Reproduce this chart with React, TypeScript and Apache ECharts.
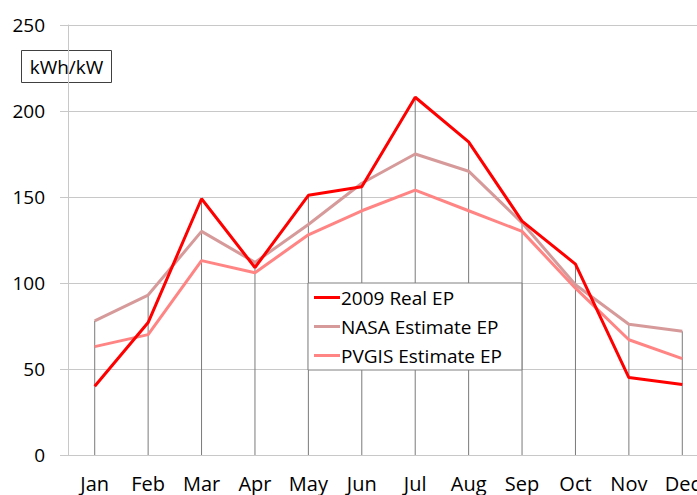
import React, { useEffect, useRef } from "react";
import * as echarts from "echarts";

const months = ["Jan", "Feb", "Mar", "Apr", "May", "Jun", "Jul", "Aug", "Sep", "Oct", "Nov", "Dec"];
const realEP = [40, 77, 149, 109, 151, 156, 208, 182, 136, 111, 45, 41];
const nasaEP = [78, 93, 130, 112, 134, 158, 175, 165, 135, 99, 76, 72];
const pvgisEP = [63, 70, 113, 106, 128, 142, 154, 142, 130, 97, 67, 56];
const seriesNames = ["2009 Real EP", "NASA Estimate EP", "PVGIS Estimate EP"];
const unitLabel = "kWh/kW";

const FONT = "'Open Sans', 'Noto Sans', sans-serif";

export default function App() {
  const ref = useRef<HTMLDivElement>(null);
  useEffect(() => {
    document.body.style.margin = "0";
    const chart = echarts.init(ref.current!, null, { renderer: "svg" });
    const dropMax = months.map((_, i) => Math.max(realEP[i], nasaEP[i], pvgisEP[i]));
    chart.setOption({
      animation: false,
      backgroundColor: "#ffffff",
      grid: { left: 68, top: 25, right: 0, bottom: 40, containLabel: false, outerBoundsMode: "none" },
      textStyle: { fontFamily: FONT },
      legend: {
        orient: "vertical",
        left: 308,
        top: 283,
        width: 212,
        backgroundColor: "#ffffff",
        borderColor: "#808080",
        borderWidth: 1,
        padding: [4, 20, 4, 6],
        itemGap: 8,
        itemWidth: 26,
        itemHeight: 3,
        textStyle: { fontFamily: FONT, fontSize: 19, color: "#000000", lineHeight: 21, padding: [0, 0, 0, -4] },
        data: seriesNames.map((n) => ({ name: n, icon: "rect" })),
      },
      xAxis: {
        type: "category",
        data: months,
        boundaryGap: true,
        axisLine: { lineStyle: { color: "#c8c8c8", width: 1 } },
        axisTick: { alignWithLabel: true, length: 6, lineStyle: { color: "#d8d8d8" } },
        axisLabel: { fontFamily: FONT, fontSize: 20, color: "#000000", margin: 18 },
        splitLine: { show: false },
      },
      yAxis: {
        type: "value",
        min: 0,
        max: 250,
        interval: 50,
        axisLine: { show: true, lineStyle: { color: "#c8c8c8", width: 1 } },
        axisTick: { show: true, length: 8, lineStyle: { color: "#c8c8c8" } },
        axisLabel: { fontFamily: FONT, fontSize: 19, color: "#000000", margin: 23 },
        splitLine: { lineStyle: { color: "#c8c8c8", width: 1 } },
      },
      graphic: [
        {
          type: "group",
          left: 21,
          top: 50,
          children: [
            {
              type: "rect",
              shape: { x: 0, y: 0, width: 90, height: 32 },
              style: { fill: "#ffffff", stroke: "#404040", lineWidth: 1 },
            },
            {
              type: "text",
              x: 45,
              y: 16,
              style: {
                text: unitLabel,
                fontFamily: FONT,
                fontSize: 19,
                fill: "#000000",
                align: "center",
                verticalAlign: "middle",
              },
            },
          ],
        },
      ],
      series: [
        {
          type: "bar",
          name: "drop",
          data: dropMax,
          barWidth: 1,
          itemStyle: { color: "#7a7a7a" },
          silent: true,
          z: 1,
          legendHoverLink: false,
        },
        {
          type: "line",
          name: seriesNames[2],
          data: pvgisEP,
          symbol: "none",
          lineStyle: { color: "#ff8585", width: 3 },
          itemStyle: { color: "#ff8585" },
          z: 3,
        },
        {
          type: "line",
          name: seriesNames[1],
          data: nasaEP,
          symbol: "none",
          lineStyle: { color: "#d79a9a", width: 3 },
          itemStyle: { color: "#d79a9a" },
          z: 4,
        },
        {
          type: "line",
          name: seriesNames[0],
          data: realEP,
          symbol: "none",
          lineStyle: { color: "#ff0000", width: 3 },
          itemStyle: { color: "#ff0000" },
          z: 5,
        },
      ],
    });
    return () => chart.dispose();
  }, []);
  return (
    <div style={{ width: 697, height: 495, overflow: "hidden", position: "relative" }}>
      <div ref={ref} style={{ width: 709, height: 495, position: "absolute", left: 0, top: 0 }} />
    </div>
  );
}
